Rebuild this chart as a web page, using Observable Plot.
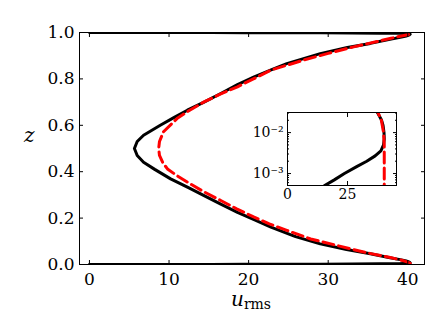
<!DOCTYPE html>
<html><head><meta charset="utf-8">
<script src="https://cdn.jsdelivr.net/npm/d3@7"></script>
<script src="https://cdn.jsdelivr.net/npm/@observablehq/plot@0.6"></script>
<style>
body{margin:0;background:#fff;}
#wrap{position:relative;width:448px;height:336px;overflow:hidden;}
#wrap svg{position:absolute;}
.lab{position:absolute;font-size:20px;color:#000;line-height:1;white-space:nowrap;}
.lab i{font-style:italic;}
.lab sub{font-size:14px;vertical-align:baseline;position:relative;top:3px;font-style:normal;}
</style></head><body><div id="wrap"></div>
<script>
// black solid profile (no-slip): height z, rms velocity u
const blackZ = [0, 0.0004, 0.0005, 0.0007, 0.001, 0.0015, 0.002, 0.0027, 0.0036, 0.005, 0.007, 0.01, 0.015, 0.02, 0.03, 0.046, 0.065, 0.089, 0.12, 0.161, 0.19, 0.225, 0.26, 0.297, 0.33, 0.369, 0.41, 0.441, 0.47, 0.5,
  0.53, 0.557, 0.6, 0.633, 0.665, 0.70, 0.737, 0.775, 0.809, 0.84, 0.866, 0.909, 0.935, 0.953, 0.97, 0.98, 0.985, 0.99, 0.993, 0.995, 0.9964, 0.9973, 0.998, 0.9985, 0.999, 0.9993, 0.9995, 0.9996, 1];
const blackU = [0, 13.2, 15.3, 19.5, 23.7, 29.0, 33.0, 36.5, 38.9, 40.0, 40.3, 40.2, 39.8, 39.2, 37.6, 35.3, 32.3, 29.0, 25.9, 22.8, 20.9, 18.6, 16.5, 14.4, 12.5, 10.2, 8.2, 6.8, 6.0, 5.65,
  6.0, 6.8, 8.9, 10.6, 12.3, 14.4, 16.5, 18.6, 20.7, 22.9, 24.8, 29.0, 32.4, 35.3, 37.6, 39.2, 39.8, 40.2, 40.3, 40.0, 38.9, 36.5, 33.0, 29.0, 23.7, 19.5, 15.3, 13.2, 0];
// red dashed profile (free-slip)
const redZ = [0, 0.0003, 0.001, 0.002, 0.005, 0.01, 0.02, 0.03, 0.05, 0.082, 0.11, 0.147, 0.175, 0.204, 0.24, 0.276, 0.315, 0.355, 0.385, 0.412, 0.44, 0.47, 0.5,
  0.53, 0.572, 0.629, 0.665, 0.701, 0.735, 0.766, 0.80, 0.838, 0.881, 0.91, 0.938, 0.96, 0.975, 0.985, 0.99, 0.995, 0.998, 1];
const redU = [40.3, 40.3, 40.3, 40.3, 40.3, 40.0, 39.1, 37.8, 34.9, 31.1, 27.8, 24.8, 22.6, 20.7, 18.5, 16.5, 14.3, 12.3, 10.9, 9.8, 9.2, 8.8, 8.7,
  8.8, 9.3, 11.0, 12.6, 14.4, 16.5, 18.6, 20.6, 22.8, 26.9, 30.0, 33.2, 36.0, 37.9, 39.2, 40.0, 40.3, 40.3, 40.3];

const xTicks = [0, 10, 20, 30, 40];
const yTicks = [0, 0.2, 0.4, 0.6, 0.8, 1.0];
const insetXTicks = [0, 25];
const insetYTicks = [1e-3, 1e-2];
const insetYMinor = [6e-4, 7e-4, 8e-4, 9e-4, 2e-3, 3e-3, 4e-3, 5e-3, 6e-3, 7e-3, 8e-3, 9e-3, 2e-2, 3e-2];
const supers = {"-3": "10\u207B\u00B3", "-2": "10\u207B\u00B2"};

const black = blackZ.map((z, i) => ({z, u: blackU[i]}));
const red = redZ.map((z, i) => ({z, u: redU[i]}));

const font = "'DejaVu Serif', 'Times New Roman', Times, serif";
const wrap = document.getElementById("wrap");

const main = Plot.plot({
  width: 448, height: 336,
  marginLeft: 79, marginRight: 24, marginTop: 32, marginBottom: 72,
  style: {fontFamily: font, fontSize: "17px", background: "transparent", color: "#000"},
  x: {domain: [-1.25, 42.1], label: null},
  y: {domain: [0, 1], label: null},
  marks: [
    Plot.line(black, {x: "u", y: "z", stroke: "#000", strokeWidth: 3, clip: true}),
    Plot.line(red, {x: "u", y: "z", stroke: "#ff0000", strokeWidth: 3, strokeDasharray: "11,5", clip: true}),
    Plot.frame({stroke: "#000", strokeWidth: 1}),
    Plot.axisX(xTicks, {anchor: "bottom", tickSize: 0, tickPadding: 8, tickFormat: d => String(d), label: null}),
    Plot.axisX(xTicks, {anchor: "bottom", tickSize: 4, fill: "none", dy: -4, label: null}),
    Plot.axisX(xTicks, {anchor: "top", tickSize: 4, fill: "none", dy: 4, label: null}),
    Plot.axisY(yTicks, {anchor: "left", tickSize: 0, tickPadding: 5, tickFormat: d => d.toFixed(1), label: null}),
    Plot.axisY(yTicks, {anchor: "left", tickSize: 4, fill: "none", dx: 4, label: null}),
    Plot.axisY(yTicks, {anchor: "right", tickSize: 4, fill: "none", dx: -4, label: null})
  ]
});
main.style.left = "0px"; main.style.top = "0px";
wrap.appendChild(main);

const inset = Plot.plot({
  width: 160, height: 110,
  marginLeft: 41, marginRight: 10, marginTop: 12, marginBottom: 25,
  style: {fontFamily: font, fontSize: "14px", background: "transparent", color: "#000"},
  x: {domain: [0, 45.4], label: null},
  y: {type: "log", domain: [5.1e-4, 0.031], label: null},
  marks: [
    Plot.frame({fill: "#fff"}),
    Plot.line(black.filter(d => d.z > 0 && d.z < 0.06), {x: "u", y: "z", stroke: "#000", strokeWidth: 3, clip: true}),
    Plot.line(red.filter(d => d.z > 0 && d.z < 0.06), {x: "u", y: "z", stroke: "#ff0000", strokeWidth: 3, strokeDasharray: "11,5", clip: true}),
    Plot.frame({stroke: "#000", strokeWidth: 1}),
    Plot.axisX(insetXTicks, {anchor: "bottom", tickSize: 0, tickPadding: 4, tickFormat: d => String(d), label: null}),
    Plot.axisX(insetXTicks, {anchor: "bottom", tickSize: 4, fill: "none", dy: -4, label: null}),
    Plot.axisX(insetXTicks, {anchor: "top", tickSize: 4, fill: "none", dy: 4, label: null}),
    Plot.axisY(insetYTicks, {anchor: "left", tickSize: 0, tickPadding: 4, tickFormat: d => supers[String(Math.round(Math.log10(d)))], label: null}),
    Plot.axisY(insetYTicks, {anchor: "left", tickSize: 4, fill: "none", dx: 4, label: null}),
    Plot.axisY(insetYTicks, {anchor: "right", tickSize: 4, fill: "none", dx: -4, label: null}),
    Plot.axisY(insetYMinor, {anchor: "left", tickSize: 2, fill: "none", dx: 2, label: null, tickFormat: null}),
    Plot.axisY(insetYMinor, {anchor: "right", tickSize: 2, fill: "none", dx: -2, label: null, tickFormat: null})
  ]
});
inset.style.left = "246px"; inset.style.top = "100px";
wrap.appendChild(inset);

const zl = document.createElement("div");
zl.className = "lab"; zl.style.fontFamily = font; zl.style.left = "24px"; zl.style.top = "125px";
zl.innerHTML = "<i>z</i>";
wrap.appendChild(zl);

const ul = document.createElement("div");
ul.className = "lab"; ul.style.fontFamily = font; ul.style.left = "231px"; ul.style.top = "289px";
ul.innerHTML = "<i>u</i><sub>rms</sub>";
wrap.appendChild(ul);
</script>
</body></html>
